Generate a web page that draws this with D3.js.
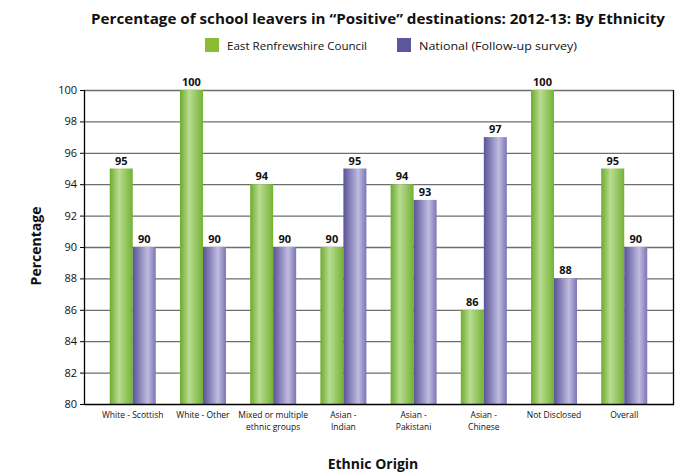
<!DOCTYPE html>
<html>
<head>
<meta charset="utf-8">
<script src="https://cdn.jsdelivr.net/npm/d3@7"></script>
<style>
  body { margin: 0; background: #fff; }
  text { font-family: "Open Sans", "DejaVu Sans", sans-serif; fill: #111; }
</style>
</head>
<body>
<svg id="chart" width="688" height="473"></svg>
<script>
// data
const categories = [
  ["White - Scottish"],
  ["White - Other"],
  ["Mixed or multiple", "ethnic groups"],
  ["Asian -", "Indian"],
  ["Asian -", "Pakistani"],
  ["Asian -", "Chinese"],
  ["Not Disclosed"],
  ["Overall"]
];
const seriesNames = ["East Renfrewshire Council", "National (Follow-up survey)"];
const eastRenfrewshire = [95, 100, 94, 90, 94, 86, 100, 95];
const national = [90, 90, 90, 95, 93, 97, 88, 90];
const yTicks = [80, 82, 84, 86, 88, 90, 92, 94, 96, 98, 100];

const svg = d3.select("#chart");
const pLeft = 84, pRight = 673, pTop = 90, pBottom = 404;

// gradients for the shaded bars
const defs = svg.append("defs");
function addGrad(id, stops) {
  let g = defs.append("linearGradient").attr("id", id)
    .attr("x1", "0%").attr("x2", "100%").attr("y1", "0%").attr("y2", "0%");
  stops.forEach(s => g.append("stop").attr("offset", s[0]).attr("stop-color", s[1]));
}
addGrad("gGreen", [["0%", "#6dab2c"], ["40%", "#b9dc92"], ["100%", "#74b235"]]);
addGrad("gPurple", [["0%", "#5a5398"], ["65%", "#c0bce0"], ["100%", "#7c76b5"]]);
const fills = ["url(#gGreen)", "url(#gPurple)"];
const legendColours = ["#8cbb35", "#5c579c"];

const x = d3.scaleBand()
  .domain(d3.range(categories.length))
  .range([pLeft, pRight])
  .paddingInner(0.345)
  .paddingOuter(0.367);
const x1 = d3.scaleBand().domain([0, 1]).range([0, x.bandwidth()]);
const y = d3.scaleLinear().domain([80, 100]).range([pBottom, pTop]);

// grid lines
svg.append("g").selectAll("line").data(yTicks.slice(1)).join("line")
  .attr("x1", pLeft).attr("x2", pRight)
  .attr("y1", d => y(d) + 0.5).attr("y2", d => y(d) + 0.5)
  .attr("stroke", "#6e6e6e").attr("stroke-width", 1.3);

// bars
const series = [eastRenfrewshire, national];
series.forEach((vals, s) => {
  const g = svg.append("g");
  g.selectAll("rect").data(vals).join("rect")
    .attr("x", (d, i) => x(i) + x1(s))
    .attr("y", d => y(d))
    .attr("width", x1.bandwidth())
    .attr("height", d => y(80) - y(d))
    .attr("fill", fills[s]);
  g.selectAll("text").data(vals).join("text")
    .attr("x", (d, i) => x(i) + x1(s) + x1.bandwidth() / 2)
    .attr("y", d => y(d) - 4)
    .attr("text-anchor", "middle")
    .attr("font-size", 11)
    .attr("font-weight", "bold")
    .text(d => d);
});

// axes
const yAxis = svg.append("g")
  .attr("transform", `translate(${pLeft},0)`)
  .call(d3.axisLeft(y).tickValues(yTicks).tickSize(4).tickPadding(3));
yAxis.select(".domain").remove();
yAxis.selectAll("line").attr("stroke", "#000");
yAxis.selectAll("text").attr("font-size", 11).attr("font-family", "Open Sans, sans-serif").attr("fill", "#111");

svg.append("path")
  .attr("d", `M${pLeft + 0.5},${pTop}V${pBottom + 0.5}H${pRight + 0.5}V${pTop}`)
  .attr("fill", "none").attr("stroke", "#000").attr("stroke-width", 1.3);

// category labels
const catG = svg.append("g");
categories.forEach((lines, i) => {
  const t = catG.append("text")
    .attr("x", x(i) + x.bandwidth() / 2)
    .attr("y", 418)
    .attr("text-anchor", "middle")
    .attr("font-size", 8.5);
  lines.forEach((ln, k) => t.append("tspan")
    .attr("x", x(i) + x.bandwidth() / 2)
    .attr("dy", k === 0 ? 0 : 12)
    .text(ln));
});

// title
svg.append("text")
  .attr("x", 378).attr("y", 24)
  .attr("text-anchor", "middle")
  .attr("font-size", 14.5).attr("font-weight", "bold")
  .attr("textLength", 574).attr("lengthAdjust", "spacingAndGlyphs")
  .text("Percentage of school leavers in \u201CPositive\u201D destinations: 2012-13: By Ethnicity");

// legend
const legendX = [205, 397];
const legendW = [140, 158];
seriesNames.forEach((name, s) => {
  svg.append("rect")
    .attr("x", legendX[s]).attr("y", 38)
    .attr("width", 14).attr("height", 14)
    .attr("fill", legendColours[s]);
  svg.append("text")
    .attr("x", legendX[s] + 22).attr("y", 50)
    .attr("font-size", 11.5)
    .attr("textLength", legendW[s]).attr("lengthAdjust", "spacingAndGlyphs")
    .text(name);
});

// axis titles
svg.append("text")
  .attr("transform", "translate(41,246) rotate(-90)")
  .attr("text-anchor", "middle")
  .attr("font-size", 14).attr("font-weight", "bold")
  .text("Percentage");

svg.append("text")
  .attr("x", 373).attr("y", 469)
  .attr("text-anchor", "middle")
  .attr("font-size", 14).attr("font-weight", "bold")
  .text("Ethnic Origin");
</script>
</body>
</html>
